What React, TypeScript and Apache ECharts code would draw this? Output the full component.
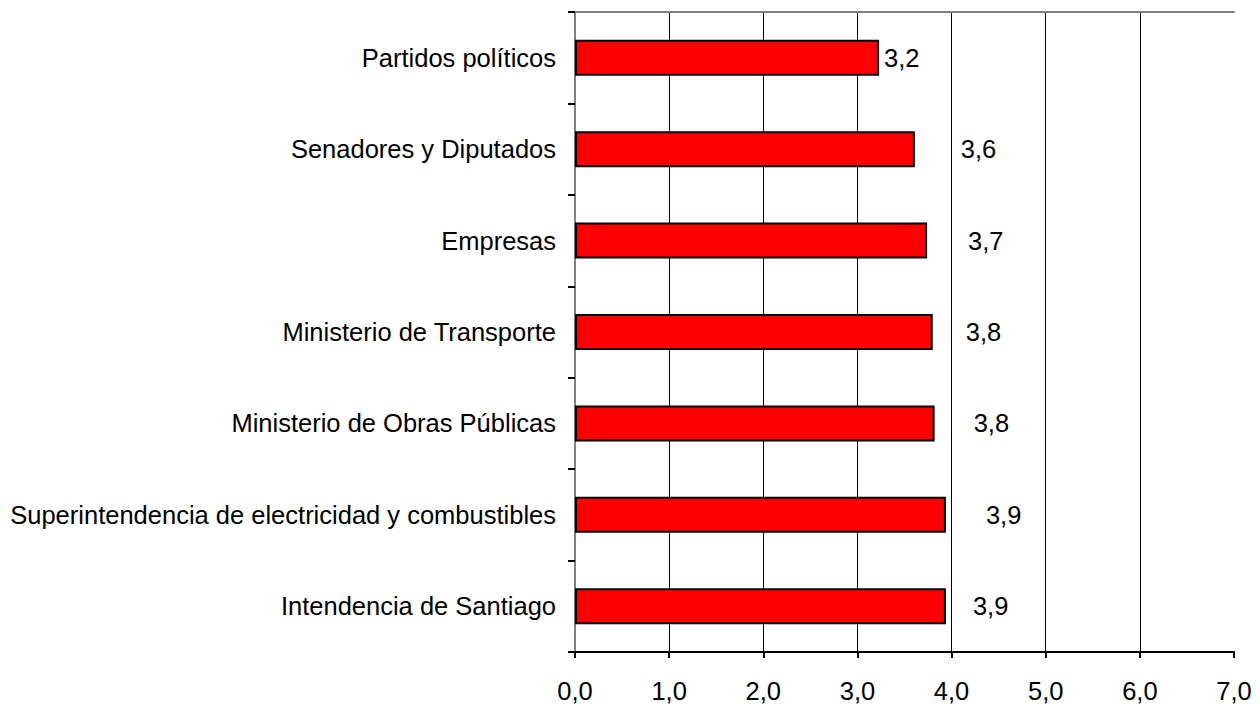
import React, { useEffect, useRef } from "react";
import * as echarts from "echarts";

const categories = [
  "Partidos políticos",
  "Senadores y Diputados",
  "Empresas",
  "Ministerio de Transporte",
  "Ministerio de Obras Públicas",
  "Superintendencia de electricidad y combustibles",
  "Intendencia de Santiago",
];
const values = [3.23, 3.61, 3.74, 3.8, 3.82, 3.94, 3.94];
const labelGaps = [5, 46, 41, 33, 39, 40, 27];

const FONT = "'Liberation Sans', Arial, sans-serif";
const FS = 25.5;
const fmt = (v: number) => v.toFixed(1).replace(".", ",");

export default function App() {
  const ref = useRef<HTMLDivElement>(null);
  useEffect(() => {
    if (!ref.current) return;
    const chart = echarts.init(ref.current, undefined, { renderer: "svg" });
    chart.setOption({
      animation: false,
      backgroundColor: "#ffffff",
      grid: {
        left: 575,
        right: 26,
        top: 12,
        bottom: 54,
        containLabel: false,
        outerBoundsMode: "none",
      },
      xAxis: [
        {
          type: "value",
          min: 0,
          max: 7,
          interval: 1,
          position: "bottom",
          axisLine: { show: true, lineStyle: { color: "#000", width: 2 } },
          axisTick: { show: true, length: 6, lineStyle: { color: "#000", width: 2 } },
          axisLabel: {
            formatter: (v: number) => fmt(v),
            fontSize: FS,
            color: "#000",
            fontFamily: FONT,
            margin: 26,
          },
          splitLine: {
            show: true,
            showMinLine: false,
            showMaxLine: false,
            lineStyle: { color: "#000", width: 1 },
          },
        },
        {
          type: "value",
          min: 0,
          max: 7,
          position: "top",
          axisLine: { show: true, lineStyle: { color: "#808080", width: 2 } },
          axisTick: { show: false },
          axisLabel: { show: false },
          splitLine: { show: false },
        },
      ],
      yAxis: [
        {
          type: "category",
          data: categories,
          inverse: true,
          position: "left",
          axisLine: { show: true, lineStyle: { color: "#000", width: 2 } },
          axisTick: { show: true, length: 7, lineStyle: { color: "#000", width: 2 } },
          axisLabel: {
            fontSize: FS,
            color: "#000",
            fontFamily: FONT,
            margin: 19,
          },
          splitLine: { show: false },
        },
        {
          type: "category",
          data: categories,
          inverse: true,
          position: "right",
          axisLine: { show: true, lineStyle: { color: "#808080", width: 2 } },
          axisTick: { show: false },
          axisLabel: { show: false },
          splitLine: { show: false },
        },
      ],
      series: [
        {
          type: "bar",
          xAxisIndex: 0,
          yAxisIndex: 0,
          barWidth: 36,
          itemStyle: { color: "#FF0000", borderColor: "#000", borderWidth: 2 },
          label: {
            show: true,
            position: "right",
            fontSize: FS,
            color: "#000",
            fontFamily: FONT,
            formatter: (p: any) => fmt(p.value),
          },
          data: values.map((v, i) => ({
            value: v,
            label: { distance: labelGaps[i] },
          })),
        },
      ],
    });
    return () => chart.dispose();
  }, []);
  return (
    <div
      ref={ref}
      style={{ position: "fixed", left: 0, top: 0, width: 1260, height: 706 }}
    />
  );
}
